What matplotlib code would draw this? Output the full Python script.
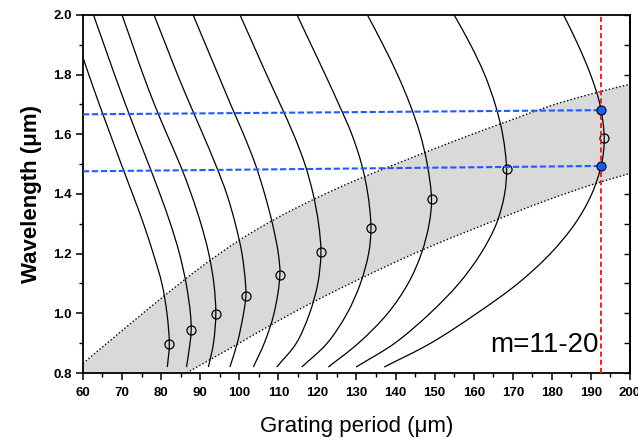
import numpy as np
import matplotlib.pyplot as plt
from matplotlib.path import Path
from matplotlib.patches import PathPatch
from matplotlib.ticker import MultipleLocator

plt.rcParams["font.family"] = ["Liberation Sans", "DejaVu Sans"]

wl_levels = [0.82, 0.9, 1.0, 1.1, 1.2, 1.3, 1.4, 1.5, 1.6, 1.7, 1.8, 1.9, 2.0]

# grating period (um) of every curve at those wavelengths (m=20 ... m=11)
period_m20 = [81.6, 82.1, 81.5, 80.2, 78.0, 75.5, 72.7, 69.8, 67.0, 64.2, 61.5, 58.9, np.nan]
period_m19 = [86.5, 87.4, 87.5, 86.4, 84.7, 82.4, 79.7, 76.8, 73.8, 70.9, 68.1, 65.4, 62.7]
period_m18 = [92.1, 93.4, 94.0, 93.5, 92.2, 90.2, 87.7, 84.8, 81.5, 78.3, 75.4, 72.7, 70.0]
period_m17 = [97.6, 99.5, 101.1, 101.6, 100.7, 99.0, 96.8, 93.9, 90.7, 87.4, 84.2, 81.2, 78.2]
period_m16 = [103.6, 106.4, 108.9, 110.3, 110.0, 108.5, 106.5, 104.1, 101.1, 97.8, 94.6, 91.4, 88.2]
period_m15 = [109.6, 114.6, 118.0, 120.1, 121.0, 120.3, 118.9, 116.8, 113.9, 110.5, 107.0, 103.6, 100.2]
period_m14 = [116.0, 122.5, 127.6, 131.0, 133.1, 133.6, 132.9, 131.3, 128.8, 125.5, 122.0, 118.4, 114.8]
period_m13 = [122.8, 130.5, 138.0, 143.2, 146.6, 148.6, 149.2, 148.1, 146.3, 143.7, 140.5, 136.8, 132.8]
period_m12 = [129.9, 139.8, 148.8, 156.2, 161.8, 165.8, 167.9, 168.4, 167.4, 165.5, 162.8, 159.2, 155.0]
period_m11 = [137.1, 149.0, 160.8, 171.3, 179.6, 185.9, 190.2, 192.7, 193.4, 192.3, 189.9, 186.7, 183.0]

# turning points of the curves (open circles)
tp_period = [82.1, 87.7, 94.0, 101.7, 110.4, 120.9, 133.7, 149.2, 168.4, 193.4]
tp_wl = [0.896, 0.943, 0.999, 1.058, 1.129, 1.204, 1.287, 1.382, 1.483, 1.587]

# edges of the shaded band
band_period = [60, 70, 80, 90, 100, 110, 120, 130, 140, 150, 160, 170, 180, 190, 200]
band_upper = [0.832, 0.942, 1.05, 1.153, 1.245, 1.322, 1.388, 1.447, 1.50, 1.552, 1.602, 1.65, 1.697, 1.735, 1.768]
band_lower = [0.604, 0.678, 0.752, 0.826, 0.90, 0.975, 1.045, 1.11, 1.172, 1.23, 1.283, 1.335, 1.385, 1.43, 1.469]

# chosen grating period and the two resonance wavelengths
op_period = 192.6
cut_period = [60, 192.6]
cut_upper = [1.667, 1.681]
cut_lower = [1.476, 1.494]

curves = [period_m20, period_m19, period_m18, period_m17, period_m16,
          period_m15, period_m14, period_m13, period_m12, period_m11]

XLIM = (60, 200)
YLIM = (0.8, 2.0)
# rough pixel size of the plot box, used only to weigh distances for smoothing
SX = 547 / (XLIM[1] - XLIM[0])
SY = 358 / (YLIM[1] - YLIM[0])


def smooth_vertices(xs, ys):
    """Bezier control points (centripetal Catmull-Rom) through the given points."""
    p = np.column_stack([np.asarray(xs) * SX, np.asarray(ys) * SY])
    p = np.vstack([2 * p[0] - p[1], p, 2 * p[-1] - p[-2]])
    verts = [p[1]]
    for i in range(1, len(p) - 2):
        p0, p1, p2, p3 = p[i - 1], p[i], p[i + 1], p[i + 2]
        d1 = max(np.linalg.norm(p1 - p0) ** 0.5, 1e-6)
        d2 = max(np.linalg.norm(p2 - p1) ** 0.5, 1e-6)
        d3 = max(np.linalg.norm(p3 - p2) ** 0.5, 1e-6)
        b1 = (d1**2 * p2 - d2**2 * p0 + (2 * d1**2 + 3 * d1 * d2 + d2**2) * p1) / (3 * d1 * (d1 + d2))
        b2 = (d3**2 * p1 - d2**2 * p3 + (2 * d3**2 + 3 * d3 * d2 + d2**2) * p2) / (3 * d3 * (d3 + d2))
        verts += [b1, b2, p2]
    verts = np.array(verts)
    verts[:, 0] /= SX
    verts[:, 1] /= SY
    return verts


def smooth_path(xs, ys):
    verts = smooth_vertices(xs, ys)
    codes = [Path.MOVETO] + [Path.CURVE4] * (len(verts) - 1)
    return Path(verts, codes)


fig = plt.figure(figsize=(6.38, 4.38), dpi=100)
ax = fig.add_axes([0.130, 0.1484, 0.8575, 0.8174])

# shaded band between the two dotted edges
up_v = smooth_vertices(band_period, band_upper)
lo_v = smooth_vertices(band_period, band_lower)[::-1]
band_verts = np.vstack([up_v, lo_v, up_v[:1]])
band_codes = ([Path.MOVETO] + [Path.CURVE4] * (len(up_v) - 1) + [Path.LINETO]
              + [Path.CURVE4] * (len(lo_v) - 1) + [Path.CLOSEPOLY])
ax.add_patch(PathPatch(Path(band_verts, band_codes), facecolor="#d9d9d9", lw=0, zorder=1))
for edge in (band_upper, band_lower):
    ax.add_patch(PathPatch(smooth_path(band_period, edge), fill=False, edgecolor="black",
                           lw=1.0, ls=(0, (1, 1.6)), zorder=2))

for i, curve in enumerate(curves):
    pts = [(w, p) for w, p in zip(wl_levels, curve)
           if not np.isnan(p) and abs(w - tp_wl[i]) > 0.03]
    pts = sorted(pts + [(tp_wl[i], tp_period[i])])
    wl = [q[0] for q in pts]
    per = [q[1] for q in pts]
    ax.add_patch(PathPatch(smooth_path(per, wl), fill=False, edgecolor="black", lw=0.9, zorder=3))

ax.plot(tp_period, tp_wl, ls="none", marker="o", ms=6.5, mfc="none", mec="black", mew=0.9, zorder=4)

ax.plot(cut_period, cut_upper, color="#1f5cff", lw=1.5, dashes=(3, 1.3), zorder=5)
ax.plot(cut_period, cut_lower, color="#1f5cff", lw=1.5, dashes=(3, 1.3), zorder=5)
ax.axvline(op_period, color="#ff1a1a", lw=1.4, dashes=(2.6, 1.6), zorder=5)
ax.plot([cut_period[1], cut_period[1]], [cut_upper[1], cut_lower[1]], ls="none", marker="o",
        ms=6.5, mfc="#1560f0", mec="black", mew=0.8, zorder=6)

ax.text(191.9, 0.87, "m=11-20", fontsize=20, ha="right", va="baseline", zorder=7)

ax.set_xlim(*XLIM)
ax.set_ylim(*YLIM)
ax.xaxis.set_major_locator(MultipleLocator(10))
ax.xaxis.set_minor_locator(MultipleLocator(5))
ax.yaxis.set_major_locator(MultipleLocator(0.2))
ax.yaxis.set_minor_locator(MultipleLocator(0.1))
ax.yaxis.set_major_formatter(plt.FormatStrFormatter("%.1f"))
ax.tick_params(which="major", direction="out", length=5, width=1.1, labelsize=9.5, pad=3)
ax.tick_params(axis="x", which="major", pad=5)
ax.tick_params(which="minor", direction="out", length=3, width=1.0)
for lab in ax.get_xticklabels() + ax.get_yticklabels():
    lab.set_fontweight("bold")

sec = ax.secondary_yaxis("right")
sec.yaxis.set_major_locator(MultipleLocator(0.1))
sec.tick_params(direction="in", length=4, width=1.0, labelright=False)
sec.spines["right"].set_linewidth(1.3)

for s in ax.spines.values():
    s.set_linewidth(1.3)

ax.set_xlabel("Grating period (\u03bcm)", fontsize=16, labelpad=12)
ax.set_ylabel("Wavelength (\u03bcm)", fontsize=16, fontweight="bold", labelpad=8)

fig.savefig("out.png", dpi=100)
